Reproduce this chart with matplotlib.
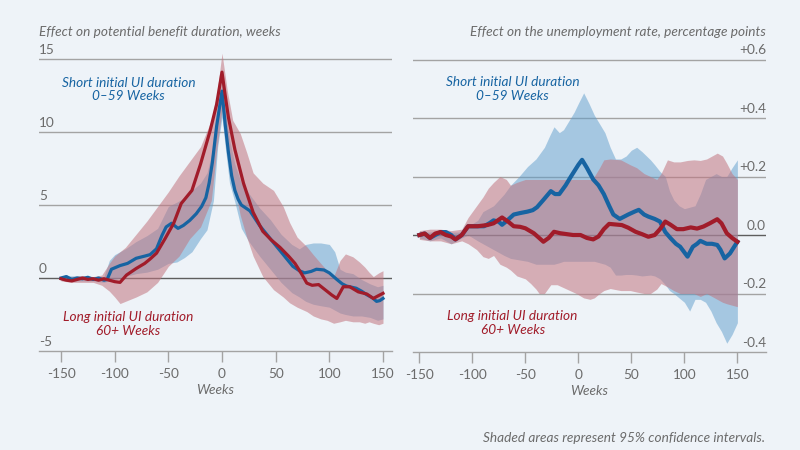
import matplotlib
matplotlib.use("Agg")
import matplotlib.pyplot as plt

# ---- left panel: effect on potential benefit duration (weeks) ----
pbd_short_weeks = [-150, -145, -140, -135, -130, -125, -120, -115, -110, -107, -103, -95, -88, -80, -72,
                   -67, -61, -56, -52, -47, -41, -36, -30, -24, -19, -15, -12, -9, -5, 0, 3, 6, 9, 12,
                   15, 18, 26, 35, 46, 56, 66, 72, 77, 83, 88, 95, 100, 107, 112, 116, 125, 130, 135,
                   140, 144, 147, 150]
pbd_short = [0.0, 0.1, -0.1, 0.0, -0.05, 0.05, -0.1, 0.0, -0.15, -0.1, 0.6, 0.85, 1.0, 1.35, 1.5,
             1.6, 2.0, 2.9, 3.5, 3.75, 3.4, 3.6, 3.95, 4.4, 4.9, 5.5, 6.5, 7.9, 10.4, 12.8, 10.5, 8.6,
             7.0, 6.0, 5.4, 5.0, 4.6, 3.6, 2.6, 1.7, 0.8, 0.5, 0.35, 0.45, 0.6, 0.55, 0.35, -0.1, -0.4,
             -0.55, -0.7, -0.9, -1.15, -1.35, -1.6, -1.55, -1.4]

pbd_long_weeks = [-150, -145, -140, -135, -130, -125, -120, -115, -110, -105, -100, -95, -89, -80, -72,
                  -67, -61, -57, -53, -45, -38, -28, -20, -11, -5, 0, 3, 6, 12, 20, 29, 38, 46, 54,
                  62, 68, 74, 79, 84, 90, 96, 102, 107, 113, 119, 127, 135, 141, 146, 150]
pbd_long = [-0.05, -0.15, -0.2, -0.1, 0.0, -0.1, -0.05, -0.15, -0.05, -0.15, -0.25, -0.3, 0.2, 0.65,
            1.0, 1.3, 1.7, 2.2, 2.7, 3.75, 5.1, 6.0, 7.8, 10.1, 11.9, 14.1, 12.5, 11.0, 8.8, 6.5,
            4.5, 3.2, 2.6, 2.1, 1.5, 1.0, 0.3, -0.35, -0.5, -0.45, -0.8, -1.15, -1.4, -0.6, -0.6,
            -0.95, -1.1, -1.4, -1.2, -1.05]

pbd_short_ci_weeks = [-150, -140, -130, -120, -110, -105, -100, -90, -80, -70, -60, -50, -42, -35, -28,
                      -20, -14, -8, -4, 0, 3, 7, 12, 18, 25, 35, 45, 55, 65, 72, 78, 85, 92, 100, 105,
                      110, 115, 122, 130, 138, 145, 150]
pbd_short_hi = [0.15, 0.15, 0.15, 0.1, 0.1, 1.2, 1.6, 2.0, 2.5, 2.9, 3.4, 4.9, 5.2, 5.5, 6.0, 6.5, 7.2,
                9.0, 11.2, 13.5, 11.5, 9.5, 7.8, 6.5, 5.8, 4.8, 4.0, 3.0, 2.3, 2.0, 2.3, 2.4, 2.4, 2.3,
                1.8, 0.6, 0.4, 0.3, -0.1, -0.4, -0.6, -0.5]
pbd_short_lo = [-0.15, -0.2, -0.2, -0.2, -0.3, -0.2, -0.1, 0.1, 0.3, 0.4, 0.6, 1.0, 1.1, 1.4, 1.8, 2.7,
                3.3, 5.3, 9.0, 11.0, 9.0, 6.5, 5.2, 3.4, 2.5, 1.5, 0.6, -0.3, -1.0, -1.3, -1.6, -1.8,
                -1.9, -2.0, -2.2, -2.4, -2.5, -2.6, -2.6, -2.7, -2.9, -2.8]

pbd_long_ci_weeks = [-150, -140, -130, -120, -112, -105, -100, -95, -90, -80, -70, -60, -50, -40, -30,
                     -20, -10, -5, 0, 5, 10, 17, 23, 29, 38, 48, 57, 63, 70, 79, 85, 92, 98, 104, 110,
                     115, 122, 128, 133, 137, 141, 146, 150]
pbd_long_hi = [0.1, 0.1, 0.15, 0.1, 0.2, 1.0, 1.5, 1.8, 2.1, 3.0, 3.9, 4.9, 5.9, 7.0, 8.0, 9.0, 10.8,
               12.5, 15.4, 12.8, 10.8, 9.9, 8.6, 7.2, 6.5, 6.0, 4.9, 3.8, 2.8, 2.15, 1.6, 1.0, 0.5,
               0.1, 1.2, 1.65, 1.45, 1.1, 0.75, 0.4, 0.1, 0.35, 0.5]
pbd_long_lo = [-0.2, -0.3, -0.3, -0.3, -0.5, -0.9, -1.3, -1.75, -1.6, -1.3, -0.95, -0.3, 0.8, 1.5, 2.7,
               3.5, 5.3, 8.7, 11.5, 9.6, 6.8, 4.3, 2.8, 1.5, 0.1, -0.8, -1.3, -1.7, -2.0, -2.3, -2.6,
               -2.8, -2.9, -3.1, -3.0, -2.9, -3.0, -3.0, -3.1, -3.0, -3.1, -3.2, -3.1]

# ---- right panel: effect on the unemployment rate (pp) ----
ur_short_weeks = [-150, -145, -140, -135, -130, -125, -120, -116, -110, -104, -96, -89, -84, -80, -75,
                  -72, -67, -61, -55, -48, -43, -39, -33, -26, -22, -18, -12, -7, 0, 3.5, 8, 14, 19,
                  24, 29, 33, 39, 47, 53, 57, 62, 66, 72, 77, 82, 87, 92, 96, 103, 108, 112, 115, 121,
                  126, 131, 134, 138, 143, 150]
ur_short = [0.0, 0.005, -0.01, 0.0, 0.01, 0.01, 0.0, -0.015, 0.0, 0.03, 0.03, 0.03, 0.04, 0.05, 0.045,
            0.035, 0.05, 0.07, 0.075, 0.08, 0.085, 0.095, 0.12, 0.15, 0.14, 0.14, 0.17, 0.2, 0.24,
            0.257, 0.23, 0.19, 0.17, 0.14, 0.1, 0.07, 0.055, 0.07, 0.08, 0.086, 0.07, 0.063, 0.055,
            0.046, 0.01, -0.011, -0.03, -0.04, -0.074, -0.04, -0.03, -0.02, -0.03, -0.03, -0.034,
            -0.05, -0.08, -0.063, -0.023]

ur_long_weeks = [-150, -145, -140, -135, -130, -125, -120, -116, -110, -104, -95, -86, -80, -72, -66,
                 -61, -55, -50, -42, -37, -33, -28, -23, -17, -11, -5, 2, 8, 14, 19, 24, 29, 35, 41,
                 47, 54, 60, 66, 72, 77, 82, 87, 93, 99, 106, 112, 118, 124, 131, 135, 140, 145, 150]
ur_long = [0.0, 0.005, -0.01, 0.005, 0.01, 0.0, -0.005, -0.015, 0.0, 0.03, 0.03, 0.034, 0.04, 0.06,
           0.045, 0.03, 0.028, 0.023, 0.006, -0.01, -0.023, -0.01, 0.011, 0.006, 0.003, 0.0, 0.0,
           -0.01, -0.015, -0.005, 0.02, 0.038, 0.036, 0.034, 0.025, 0.011, 0.003, -0.006, 0.0, 0.02,
           0.046, 0.035, 0.02, 0.02, 0.026, 0.022, 0.029, 0.04, 0.054, 0.04, 0.006, -0.01, -0.023]

ur_short_ci_weeks = [-150, -140, -130, -120, -110, -104, -95, -90, -80, -70, -64, -56, -48, -40, -32,
                     -27, -23, -18, -14, -9, -4, 0, 5, 10, 15, 20, 25, 30, 35, 40, 45, 50, 55, 60, 68,
                     72, 77, 82, 86, 90, 95, 100, 105, 110, 115, 120, 125, 130, 135, 140, 145, 150]
ur_short_hi = [0.01, 0.01, 0.015, 0.01, 0.01, 0.03, 0.05, 0.08, 0.1, 0.14, 0.17, 0.2, 0.234, 0.26, 0.3,
               0.34, 0.37, 0.35, 0.36, 0.39, 0.42, 0.45, 0.486, 0.45, 0.41, 0.38, 0.35, 0.3, 0.26,
               0.26, 0.27, 0.29, 0.3, 0.285, 0.257, 0.24, 0.217, 0.2, 0.15, 0.12, 0.1, 0.09, 0.095,
               0.1, 0.14, 0.19, 0.2, 0.21, 0.2, 0.2, 0.23, 0.257]
ur_short_lo = [-0.01, -0.02, -0.01, -0.03, -0.01, 0.0, -0.02, -0.03, -0.05, -0.07, -0.08, -0.085, -0.09,
               -0.1, -0.1, -0.1, -0.1, -0.095, -0.09, -0.09, -0.09, -0.09, -0.09, -0.09, -0.09,
               -0.095, -0.1, -0.11, -0.137, -0.137, -0.135, -0.135, -0.137, -0.14, -0.137, -0.14,
               -0.15, -0.17, -0.19, -0.2, -0.215, -0.23, -0.26, -0.22, -0.22, -0.23, -0.26, -0.3,
               -0.33, -0.37, -0.34, -0.3]

ur_long_ci_weeks = [-150, -140, -130, -120, -110, -104, -96, -90, -85, -80, -74, -68, -64, -58, -50,
                    -45, -40, -37, -32, -26, -20, -14, -8, -2, 5, 11, 15, 20, 24, 30, 40, 49, 55, 62,
                    68, 74, 78, 84, 90, 96, 103, 109, 115, 121, 126, 131, 136, 140, 145, 150]
ur_long_hi = [0.015, 0.02, 0.02, 0.015, 0.02, 0.06, 0.1, 0.13, 0.16, 0.18, 0.2, 0.19, 0.17, 0.18, 0.19,
              0.19, 0.19, 0.19, 0.19, 0.19, 0.19, 0.19, 0.19, 0.19, 0.19, 0.19, 0.2, 0.23, 0.257,
              0.26, 0.257, 0.24, 0.23, 0.21, 0.2, 0.19, 0.21, 0.257, 0.25, 0.25, 0.255, 0.257, 0.255,
              0.26, 0.27, 0.28, 0.27, 0.245, 0.21, 0.19]
ur_long_lo = [-0.015, -0.02, -0.02, -0.03, -0.02, -0.03, -0.05, -0.074, -0.08, -0.07, -0.1, -0.11,
              -0.12, -0.14, -0.15, -0.166, -0.185, -0.2, -0.2, -0.17, -0.17, -0.18, -0.19, -0.2,
              -0.215, -0.22, -0.215, -0.2, -0.19, -0.183, -0.19, -0.19, -0.195, -0.2, -0.2, -0.185,
              -0.166, -0.177, -0.19, -0.2, -0.2, -0.2, -0.21, -0.2, -0.21, -0.22, -0.23, -0.235,
              -0.24, -0.245]

x_ticks = [-150, -100, -50, 0, 50, 100, 150]
left_yticks = [15, 10, 5, 0, -5]
left_ylabels = ["15", "10", "5", "0", "-5"]
right_yticks = [0.6, 0.4, 0.2, 0.0, -0.2, -0.4]
right_ylabels = ["+0.6", "+0.4", "+0.2", "0.0", "-0.2", "-0.4"]

BG = "#eef3f8"
BLUE = "#1764a2"
RED = "#a11c2a"
BLUE_BAND = "#5d9ccb"
RED_BAND = "#c2757f"
GRID = "#a3a3a3"
ZERO = "#5e5e5e"
TXT = "#6b6b6b"
FS = 9.8

plt.rcParams["font.family"] = ["Lato", "DejaVu Sans"]

fig = plt.figure(figsize=(8, 4.5), dpi=100, facecolor=BG)
W, H = 800, 450


def px_axes(x0, x1, ytop, ybot):
    return fig.add_axes([x0 / W, 1 - ybot / H, (x1 - x0) / W, (ybot - ytop) / H])


def style(ax, yticks, ylabels, side):
    ax.set_facecolor(BG)
    for s in ("top", "left", "right"):
        ax.spines[s].set_visible(False)
    ax.spines["bottom"].set_color(GRID)
    ax.spines["bottom"].set_linewidth(1.0)
    ax.set_yticks([])
    ax.set_xticks(x_ticks)
    ax.set_xticklabels([str(t) for t in x_ticks])
    ax.tick_params(axis="x", length=8, width=1, color=GRID, pad=4, labelsize=FS, labelcolor=TXT)
    xa, ha = (0, "left") if side == "left" else (1, "right")
    for v, lab in zip(yticks, ylabels):
        if v != yticks[-1]:
            ax.axhline(v, color=ZERO if v == 0 else GRID, lw=1.0, zorder=1)
        ax.annotate(lab, (xa, v), xycoords=("axes fraction", "data"), xytext=(0, 2.5),
                    textcoords="offset points", ha=ha, va="bottom", fontsize=FS, color=TXT)
    ax.set_xlabel("Weeks", fontsize=FS, style="italic", color=TXT, labelpad=3)


# left panel
axl = px_axes(39, 392, 44.4, 351)
axl.set_xlim(-170.5, 158.4)
axl.set_ylim(-5, 16)
style(axl, left_yticks, left_ylabels, "left")
axl.fill_between(pbd_short_ci_weeks, pbd_short_lo, pbd_short_hi, color=BLUE_BAND, alpha=0.5, lw=0, zorder=2)
axl.fill_between(pbd_long_ci_weeks, pbd_long_lo, pbd_long_hi, color=RED_BAND, alpha=0.55, lw=0, zorder=3)
axl.plot(pbd_short_weeks, pbd_short, color=BLUE, lw=2.3, zorder=4)
axl.plot(pbd_long_weeks, pbd_long, color=RED, lw=2.3, zorder=5)
axl.text(-87, 12.9, "Short initial UI duration\n0\u201359 Weeks", color=BLUE, style="italic",
         fontsize=FS, ha="center", va="center", linespacing=1.15)
axl.text(-87, -3.15, "Long initial UI duration\n60+ Weeks", color=RED, style="italic",
         fontsize=FS, ha="center", va="center", linespacing=1.15)

# right panel
axr = px_axes(413, 766, 44.9, 352)
axr.set_xlim(-156, 177)
axr.set_ylim(-0.4, 0.65)
style(axr, right_yticks, right_ylabels, "right")
axr.fill_between(ur_short_ci_weeks, ur_short_lo, ur_short_hi, color=BLUE_BAND, alpha=0.5, lw=0, zorder=2)
axr.fill_between(ur_long_ci_weeks, ur_long_lo, ur_long_hi, color=RED_BAND, alpha=0.55, lw=0, zorder=3)
axr.plot(ur_short_weeks, ur_short, color=BLUE, lw=3, zorder=4)
axr.plot(ur_long_weeks, ur_long, color=RED, lw=3, zorder=5)
axr.text(-62, 0.5, "Short initial UI duration\n0\u201359 Weeks", color=BLUE, style="italic",
         fontsize=FS, ha="center", va="center", linespacing=1.15)
axr.text(-62, -0.3, "Long initial UI duration\n60+ Weeks", color=RED, style="italic",
         fontsize=FS, ha="center", va="center", linespacing=1.15)

fig.text(39 / W, 1 - 32 / H, "Effect on potential benefit duration, weeks", ha="left", va="center",
         fontsize=FS, style="italic", color=TXT)
fig.text(766 / W, 1 - 32 / H, "Effect on the unemployment rate, percentage points", ha="right",
         va="center", fontsize=FS, style="italic", color=TXT)
fig.text(765 / W, 1 - 438 / H, "Shaded areas represent 95% confidence intervals.", ha="right",
         va="center", fontsize=FS, style="italic", color=TXT)

fig.savefig("out.png", dpi=100, facecolor=BG)
